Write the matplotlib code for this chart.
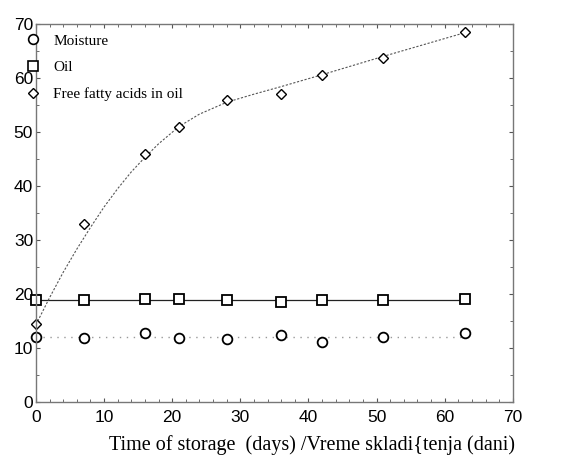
import matplotlib
matplotlib.use("Agg")
import matplotlib.pyplot as plt
from matplotlib.ticker import MultipleLocator
from matplotlib.lines import Line2D

days = [0, 7, 16, 21, 28, 36, 42, 51, 63]
moisture = [12.1, 11.8, 12.7, 11.8, 11.6, 12.4, 11.2, 12.0, 12.7]
oil = [18.9, 18.8, 19.0, 19.0, 18.9, 18.6, 18.9, 18.8, 19.1]
ffa = [14.4, 33.0, 46.0, 51.0, 56.0, 57.0, 60.5, 63.7, 68.5]

# fitted FFA curve
fit_x = [0, 2, 4, 6, 8, 10, 12, 14, 16, 18, 21, 24, 28, 32, 36, 42, 51, 63]
fit_y = [14.3, 19.3, 24.0, 28.3, 32.3, 36.1, 39.5, 42.6, 45.3, 47.8, 51.0,
         53.3, 55.5, 57.0, 58.4, 60.6, 64.0, 68.4]
moist_line = 12.0
oil_line = 18.9

legend_labels = ["Moisture", "Oil", "Free fatty acids in oil"]
xlabel = "Time of storage  (days) /Vreme skladi{tenja (dani)"

fig = plt.figure(figsize=(5.61, 4.61), dpi=100)
ax = fig.add_axes([0.064, 0.128, 0.850, 0.820])

ax.plot([0, 63], [moist_line, moist_line], linestyle=(0, (1, 4)), color="#999999", lw=1.0)
ax.plot([0, 63], [oil_line, oil_line], linestyle="-", color="#222222", lw=0.9)
ax.plot(fit_x, fit_y, linestyle=(0, (2, 1.5)), color="#555555", lw=0.8)

ax.plot(days, moisture, linestyle="none", marker="o", ms=7, mfc="white", mec="black", mew=1.3, clip_on=False)
ax.plot(days, oil, linestyle="none", marker="s", ms=7, mfc="white", mec="black", mew=1.3, clip_on=False)
ax.plot(days, ffa, linestyle="none", marker="D", ms=5.5, mfc="white", mec="black", mew=1.0, clip_on=False)

ax.set_xlim(0, 70)
ax.set_ylim(0, 70)
ax.xaxis.set_major_locator(MultipleLocator(10))
ax.yaxis.set_major_locator(MultipleLocator(10))
ax.xaxis.set_minor_locator(MultipleLocator(2))
ax.yaxis.set_minor_locator(MultipleLocator(5))
ax.tick_params(which="both", direction="in", top=True, right=True, color="#555555")
ax.tick_params(which="major", length=3, width=0.8, labelsize=12.5, pad=6)
ax.tick_params(which="minor", length=2, width=0.6)
for lab in ax.get_xticklabels() + ax.get_yticklabels():
    lab.set_fontfamily("Liberation Sans")
ax.tick_params(axis="y", pad=2)
for s in ax.spines.values():
    s.set_color("#777777")
    s.set_linewidth(1.0)

ax.set_xlabel(xlabel, fontfamily="Liberation Serif", fontsize=14.5)
ax.xaxis.set_label_coords(0.58, -0.088)

handles = [
    Line2D([], [], linestyle="none", marker="o", ms=7, mfc="white", mec="black", mew=1.2),
    Line2D([], [], linestyle="none", marker="s", ms=7, mfc="white", mec="black", mew=1.2),
    Line2D([], [], linestyle="none", marker="D", ms=5.5, mfc="white", mec="black", mew=1.0),
]
ax.legend(handles, legend_labels, loc="upper left", bbox_to_anchor=(-0.05, 1.01),
          frameon=False, handlelength=1.0, handletextpad=0.8, labelspacing=0.85,
          prop={"family": "Liberation Serif", "size": 11})

fig.savefig("out.png", dpi=100)
